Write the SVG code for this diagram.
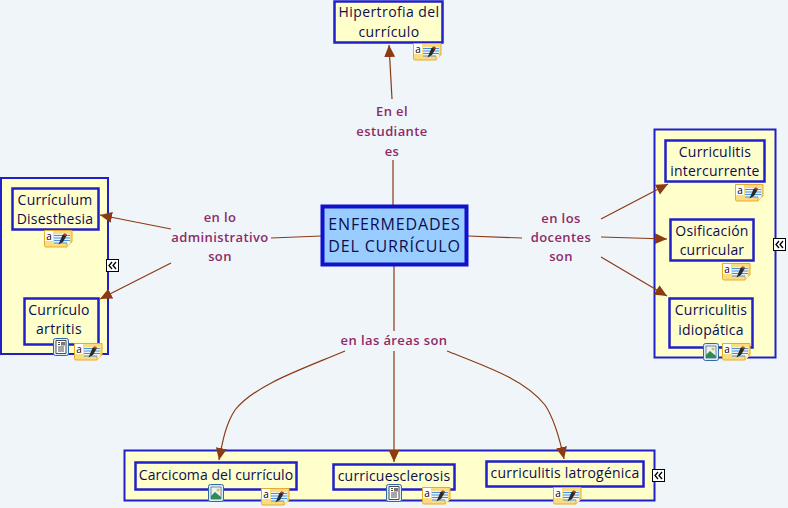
<svg xmlns="http://www.w3.org/2000/svg" width="788" height="508" viewBox="0 0 788 508">
<style>
text{font-family:"Open Sans","DejaVu Sans",sans-serif;text-anchor:middle}
.c{fill:#ffffcc;stroke:#2020c8;stroke-width:2}
.n{fill:#ffffcc;stroke:#2020c8;stroke-width:2.5}
.t{font-size:14px;fill:#0c0c50;letter-spacing:.2px}
.w{letter-spacing:.4px}
.s{letter-spacing:.05px}
.b{font-size:16px;letter-spacing:.85px}
.l{font-size:13px;font-weight:600;fill:#8e2b66;letter-spacing:.4px}
.e{fill:none;stroke:#8b3a14;stroke-width:1.2}
.x{fill:none;stroke:#000;stroke-width:1.3}
</style>
<defs>
<marker id="a" markerUnits="userSpaceOnUse" markerWidth="13" markerHeight="12" refX="12" refY="6" orient="auto"><path d="M0 .5L12 6L0 11.500Z" fill="#8b3a14"/></marker>
<g id="note"><path d="M1.500 1.500H29V13L24 18H3Q1.500 18 1.500 16.500Z" fill="#fbdc80" stroke="#e4ac30"/><path d="M24 18V13H29" fill="#fff4c8" stroke="#e4ac30"/><rect x="2" y="2" width="8" height="10" fill="#fff"/><text x="6" y="10.500" style="font-size:10px;fill:#000">a</text><rect x="11" y="5" width="16" height="9" fill="#eaf4fb"/><path d="M11 6.500H27M11 9H27M11 11.500H27M11 14H24" stroke="#4a90d8"/><path d="M15.500 15.500L19.500 6L22 4.500L24 6L20 13Z" fill="#2a2a2a"/><path d="M21 5L23.500 6.500" stroke="#c04020" stroke-width="1.500"/></g>
<g id="doc"><rect x="0.500" y="0.500" width="15" height="17" rx="2" fill="#dcecfa" stroke="#2a6aa8"/><path d="M3 2.500H13V15.500H3Z" fill="#fff" stroke="#222" stroke-width="0.800"/><path d="M5 9H11M5 11H11M5 13H11" stroke="#222" stroke-width="0.800"/><rect x="8" y="4" width="4" height="3.500" fill="#777"/><path d="M5 4.500H7M5 6.500H7" stroke="#222" stroke-width=".8"/></g>
<g id="img"><rect x="0.500" y="0.500" width="15" height="17" rx="2" fill="#dcecfa" stroke="#2a6aa8"/><rect x="3" y="3" width="10" height="12" fill="#e8f2f2" stroke="#444" stroke-width="0.600"/><path d="M3 15V12L7 8L13 13V15Z" fill="#2f8a55"/><circle cx="10" cy="6" r="1.500" fill="#d8c060"/></g>
<g id="more"><rect x="0.500" y="0.500" width="12" height="12" fill="#fff" stroke="#000"/><path class="x" d="M6 3L3 6.500L6 10M10 3L7 6.500L10 10"/></g>
</defs>
<rect width="788" height="508" fill="#f0f5fa"/>
<rect class="c" x="1" y="178" width="107" height="176"/>
<rect class="c" x="654.500" y="129.500" width="121" height="228"/>
<rect class="c" x="124.500" y="450.500" width="530" height="50"/>
<g id="connectors">
<path class="e" d="M393 205V160"/>
<path class="e" d="M392 99L389 45" marker-end="url(#a)"/>
<path class="e" d="M321 236L271 238"/>
<path class="e" d="M171 229L100 215" marker-end="url(#a)"/>
<path class="e" d="M171 263L100 299" marker-end="url(#a)"/>
<path class="e" d="M468 236L522 238"/>
<path class="e" d="M601 219L668 184" marker-end="url(#a)"/>
<path class="e" d="M601 237L667 239" marker-end="url(#a)"/>
<path class="e" d="M601 257L667 296" marker-end="url(#a)"/>
<path class="e" d="M394 265V331"/>
<path class="e" d="M394 351V462" marker-end="url(#a)"/>
<path class="e" d="M345 351C300 370 255 385 235 410C225 425 222 445 219 460" marker-end="url(#a)"/>
<path class="e" d="M447 351C490 368 525 380 545 405C555 420 560 440 564 459" marker-end="url(#a)"/>
</g>
<g id="center"><rect x="322.500" y="206.500" width="144" height="58" fill="#99ccff" stroke="#1111cc" stroke-width="4"/><text class="t b" x="394.500" y="230">ENFERMEDADES</text><text class="t b" x="394.500" y="252">DEL CURRÍCULO</text></g>
<g id="hipertrofia"><rect class="n" x="334.500" y="1.500" width="108" height="41"/><text class="t w" x="389" y="17">Hipertrofia del</text><text class="t w" x="389" y="37">currículo</text><use href="#note" x="412" y="42"/></g>
<g id="disesthesia"><rect class="n" x="12.500" y="188.500" width="86" height="41"/><text class="t" x="55" y="205">Currículum</text><text class="t" x="55" y="224">Disesthesia</text><use href="#note" x="43" y="229"/></g>
<g id="artritis"><rect class="n" x="24.500" y="298.500" width="74" height="46"/><text class="t" x="59" y="315">Currículo</text><text class="t w" x="59" y="334">artritis</text><use href="#doc" x="53" y="338"/><use href="#note" x="73" y="342"/></g>
<g id="intercurrente"><rect class="n" x="665.500" y="140.500" width="99" height="41"/><text class="t" x="715" y="157">Curriculitis</text><text class="t" x="715" y="176">intercurrente</text><use href="#note" x="734" y="183"/></g>
<g id="osificacion"><rect class="n" x="670.500" y="219.500" width="83" height="41"/><text class="t" x="712" y="236">Osificación</text><text class="t" x="712" y="255">curricular</text><use href="#note" x="721" y="262"/></g>
<g id="idiopatica"><rect class="n" x="669.500" y="298.500" width="83" height="49"/><text class="t" x="711" y="315">Curriculitis</text><text class="t" x="711" y="335">idiopática</text><use href="#img" x="703" y="343"/><use href="#note" x="721" y="342"/></g>
<g id="carcicoma"><rect class="n" x="135.500" y="462.500" width="161" height="27"/><text class="t s" x="216" y="480">Carcicoma del currículo</text><use href="#img" x="208" y="484"/><use href="#note" x="260" y="487"/></g>
<g id="curricuesclerosis"><rect class="n" x="333.500" y="464.500" width="121" height="25"/><text class="t" x="394" y="481">curricuesclerosis</text><use href="#doc" x="386" y="484"/><use href="#note" x="421" y="486"/></g>
<g id="latrogenica"><rect class="n" x="486.500" y="461.500" width="157" height="25"/><text class="t" x="565" y="478">curriculitis latrogénica</text><use href="#note" x="552" y="486"/></g>
<g id="l1"><text class="l" x="392" y="116">En el</text><text class="l" x="392" y="136">estudiante</text><text class="l" x="392" y="156">es</text></g>
<g id="l2"><text class="l" x="220" y="222">en lo</text><text class="l" x="220" y="242">administrativo</text><text class="l" x="220" y="261">son</text></g>
<g id="l3"><text class="l" x="561" y="223">en los</text><text class="l" x="561" y="242">docentes</text><text class="l" x="561" y="261">son</text></g>
<g id="l4"><text class="l" x="394" y="345">en las áreas son</text></g>
<use href="#more" x="106" y="259"/><use href="#more" x="773" y="238"/><use href="#more" x="652" y="469"/>
</svg>
